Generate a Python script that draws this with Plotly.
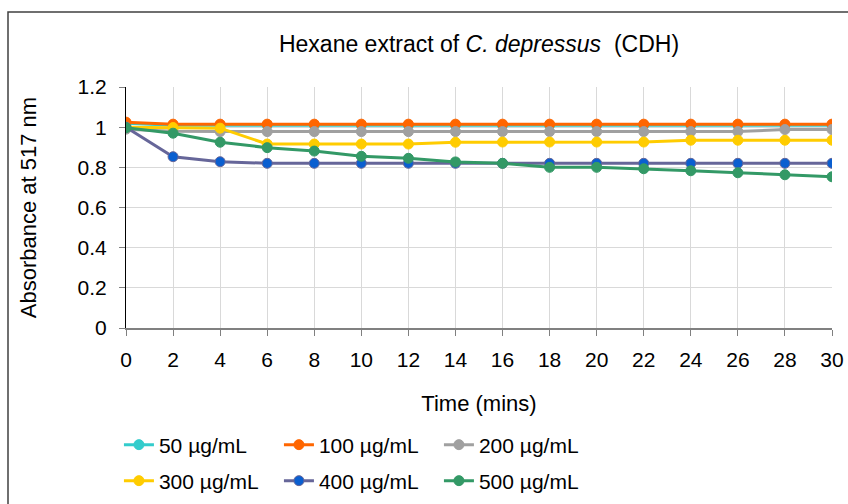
import plotly.graph_objects as go

# Time points (minutes)
time_mins = [0, 2, 4, 6, 8, 10, 12, 14, 16, 18, 20, 22, 24, 26, 28, 30]

# Absorbance at 517 nm per extract concentration
abs_50 = [1.02, 1.01, 1.01, 1.01, 1.01, 1.01, 1.01, 1.01, 1.01, 1.01, 1.01, 1.01, 1.01, 1.01, 1.01, 1.01]
abs_100 = [1.025, 1.015, 1.015, 1.015, 1.015, 1.015, 1.015, 1.015, 1.015, 1.015, 1.015, 1.015, 1.015, 1.015, 1.015, 1.015]
abs_200 = [0.99, 0.98, 0.978, 0.978, 0.978, 0.978, 0.978, 0.978, 0.978, 0.978, 0.978, 0.978, 0.978, 0.978, 0.988, 0.988]
abs_300 = [1.0, 0.998, 0.995, 0.916, 0.916, 0.916, 0.916, 0.925, 0.926, 0.926, 0.926, 0.926, 0.935, 0.935, 0.935, 0.935]
abs_400 = [1.0, 0.853, 0.828, 0.82, 0.82, 0.82, 0.82, 0.82, 0.82, 0.82, 0.82, 0.82, 0.82, 0.82, 0.82, 0.82]
abs_500 = [0.997, 0.97, 0.925, 0.898, 0.881, 0.855, 0.845, 0.827, 0.82, 0.80, 0.80, 0.793, 0.783, 0.773, 0.763, 0.753]

series_names = ["50 µg/mL", "100 µg/mL", "200 µg/mL", "300 µg/mL", "400 µg/mL", "500 µg/mL"]
series_values = [abs_50, abs_100, abs_200, abs_300, abs_400, abs_500]
line_colors = ["#33CCCC", "#FF6600", "#A0A0A0", "#FFCC00", "#666699", "#339966"]
marker_colors = ["#33CCCC", "#FF6600", "#A0A0A0", "#FFCC00", "#0A5FD0", "#339966"]
# first three series in the top legend row, the rest in the second
legend_rows = ["legend", "legend", "legend", "legend2", "legend2", "legend2"]

FONT = "Liberation Sans, Arial, sans-serif"
W, H = 848, 504
PLOT_LEFT, PLOT_RIGHT = 126, 832
PLOT_TOP, PLOT_BOTTOM = 87, 328


def paper_x(px):
    return (px - PLOT_LEFT) / (PLOT_RIGHT - PLOT_LEFT)


def paper_y(px):
    return (PLOT_BOTTOM - px) / (PLOT_BOTTOM - PLOT_TOP)


fig = go.Figure()
for name, vals, lc, mc, lg in zip(series_names, series_values, line_colors, marker_colors, legend_rows):
    fig.add_trace(go.Scatter(
        x=time_mins, y=vals, name=name, mode="lines+markers",
        line=dict(color=lc, width=3),
        marker=dict(color=mc, size=10, line=dict(color=lc, width=1)),
        legend=lg,
    ))

legend_common = dict(
    orientation="h", x=-0.01, xanchor="left", yanchor="middle",
    entrywidth=115, entrywidthmode="pixels",
    font=dict(family=FONT, size=21, color="black"),
    itemwidth=30, bgcolor="rgba(0,0,0,0)",
)

fig.update_layout(
    width=W, height=H,
    margin=dict(l=PLOT_LEFT, r=W - PLOT_RIGHT, t=PLOT_TOP, b=H - PLOT_BOTTOM,
                autoexpand=False),
    paper_bgcolor="white", plot_bgcolor="white",
    font=dict(family=FONT, size=21, color="black"),
    title=dict(
        text="Hexane extract of <i>C. depressus</i>  (CDH)",
        x=0.5, xref="paper", xanchor="center",
        y=1 - 44 / H, yanchor="middle",
        font=dict(family=FONT, size=23, color="black"),
    ),
    xaxis=dict(
        range=[0, 30], tickmode="array", tickvals=time_mins,
        showgrid=True, gridcolor="#D9D9D9", gridwidth=1,
        showline=True, linecolor="#808080", linewidth=1.5,
        ticks="outside", ticklen=6, tickcolor="#808080",
        ticklabelstandoff=6,
        zeroline=False, automargin=False,
        title=dict(text="Time (mins)", standoff=26, font=dict(size=22)),
        tickfont=dict(size=21),
    ),
    yaxis=dict(
        range=[0, 1.2], dtick=0.2, tickformat="~g",
        showgrid=True, gridcolor="#D9D9D9", gridwidth=1,
        showline=True, linecolor="black", linewidth=1,
        ticks="outside", ticklen=6, tickcolor="#808080",
        ticklabelstandoff=8,
        zeroline=False, automargin=False,
        title=dict(text="Absorbance at 517 nm", standoff=34, font=dict(size=22)),
        tickfont=dict(size=21),
    ),
    legend=dict(legend_common, y=paper_y(445)),
    legend2=dict(legend_common, y=paper_y(481)),
    showlegend=True,
)

# Outer frame around the chart
fig.add_shape(
    type="rect", xref="paper", yref="paper",
    x0=paper_x(8), x1=paper_x(870),
    y0=paper_y(530), y1=paper_y(12),
    line=dict(color="#404040", width=1.5), fillcolor="rgba(0,0,0,0)",
    layer="below",
)

fig.write_html("out.html")
